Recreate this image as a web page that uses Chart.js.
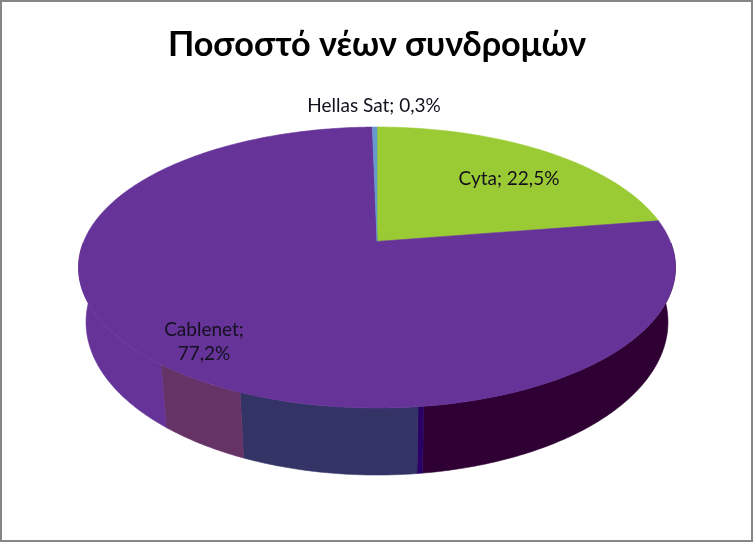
<!DOCTYPE html>
<html>
<head>
<meta charset="utf-8">
<style>
  html, body { margin: 0; padding: 0; background: #fff; }
  canvas { display: block; }
</style>
</head>
<body>
  <canvas id="myChart" width="753" height="542"></canvas>

<script src="https://cdnjs.cloudflare.com/ajax/libs/Chart.js/4.3.0/chart.umd.js"></script>

<script>
  const chartTitle = 'Ποσοστό νέων συνδρομών'
  const categories = ['Cyta', 'Cablenet', 'Hellas Sat']
  const shares = [22.5, 77.2, 0.3]
  const sliceColors = ['#9acb34', '#663399', '#6699cc']

  // the side wall of the 3D pie, degrees going clockwise from wallStart
  const wallStart = 80
  const wallSpans = [91, 1.1, 35.2, 19.1, 53.6, 160]
  const wallColors = ['#2e0033', '#2a0066', '#333366', '#663366', '#663399', 'transparent']

  // label lines and where they sit
  const labelLines = [[0], [0, 1], [0]]
  const labelCenters = [[509, 179], [204, 330], [374, 106]]

  const frameColor = '#868686'
  const xStretch = 298.5 / 140.5 // top ellipse width against height
  const tilt = 0.186             // how far perspective lifts the pie centre
  const wallDrop = 54.5          // bottom ellipse centre below the top one
  const wallShrinkX = 291 / 298.5
  const wallShrinkY = 153 / 140.5

  const labelText = (i) => {
    const value = String(shares[i]).replace('.', ',') + '%'
    return labelLines[i].length > 1 ? [categories[i] + ';', value] : [categories[i] + '; ' + value]
  }

  // disc point seen in perspective, angle clockwise from the top
  const project = (a) => {
    const u = Math.sin(a), v = Math.cos(a)
    const d = 1 + tilt * v
    return [u * Math.sqrt(1 - tilt * tilt) / d, (v + tilt) / d]
  }

  const pie3d = {
    id: 'pie3d',
    beforeDraw(chart) {
      const ctx = chart.ctx
      ctx.save()
      ctx.strokeStyle = frameColor
      ctx.lineWidth = 2
      ctx.strokeRect(1, 1, chart.width - 2, chart.height - 2)
      ctx.restore()
    },
    beforeDatasetsDraw(chart) {
      const ctx = chart.ctx
      const area = chart.chartArea
      const cx = (area.left + area.right) / 2
      const cy = (area.top + area.bottom) / 2
      const ry = area.height / 2
      const rx = ry * xStretch
      const paint = (color) => {
        ctx.closePath()
        ctx.fillStyle = color
        ctx.strokeStyle = color
        ctx.lineWidth = 0.6
        ctx.fill()
        ctx.stroke()
      }

      // wall first, the top of the pie covers its upper edge
      chart.getDatasetMeta(1).data.forEach((arc, i) => {
        if (wallColors[i] === 'transparent') return
        const a0 = arc.startAngle + Math.PI / 2
        const a1 = arc.endAngle + Math.PI / 2
        const steps = Math.max(2, Math.ceil((a1 - a0) * 90))
        ctx.beginPath()
        for (let s = 0; s <= steps; s++) {
          const a = a0 + (a1 - a0) * s / steps
          ctx.lineTo(cx + rx * Math.sin(a), cy - ry * Math.cos(a))
        }
        for (let s = steps; s >= 0; s--) {
          const a = a0 + (a1 - a0) * s / steps
          ctx.lineTo(cx + rx * wallShrinkX * Math.sin(a), cy + wallDrop - ry * wallShrinkY * Math.cos(a))
        }
        paint(wallColors[i])
      })

      chart.getDatasetMeta(0).data.forEach((arc, i) => {
        const a0 = arc.startAngle + Math.PI / 2
        const a1 = arc.endAngle + Math.PI / 2
        const steps = Math.max(2, Math.ceil((a1 - a0) * 90))
        ctx.beginPath()
        ctx.moveTo(cx, cy - ry * tilt)
        for (let s = 0; s <= steps; s++) {
          const p = project(a0 + (a1 - a0) * s / steps)
          ctx.lineTo(cx + rx * p[0], cy - ry * p[1])
        }
        paint(sliceColors[i])
      })

      return false
    },
    afterDraw(chart) {
      const ctx = chart.ctx
      ctx.save()
      ctx.font = '19px Lato, "Open Sans", sans-serif'
      ctx.fillStyle = '#14101e'
      ctx.textAlign = 'center'
      ctx.textBaseline = 'middle'
      categories.forEach((c, i) => {
        labelText(i).forEach((line, n) => {
          ctx.fillText(line, labelCenters[i][0], labelCenters[i][1] + n * 24)
        })
      })
      ctx.restore()
    }
  }

  new Chart(document.getElementById('myChart'), {
    type: 'pie',
    plugins: [pie3d],
    data: {
      labels: categories,
      datasets: [
        { label: 'Ποσοστό', data: shares, backgroundColor: sliceColors },
        { label: 'wall', data: wallSpans, backgroundColor: wallColors, rotation: wallStart }
      ]
    },
    options: {
      responsive: false,
      animation: false,
      layout: { padding: { left: 1, bottom: 134 } },
      plugins: {
        legend: { display: false },
        tooltip: { enabled: false },
        title: {
          display: true,
          text: chartTitle,
          color: '#000',
          font: { family: 'Lato, "Open Sans", sans-serif', size: 34.2, weight: 'bold' },
          padding: { top: 24, bottom: 62 }
        }
      }
    }
  })
</script>
</body>
</html>
